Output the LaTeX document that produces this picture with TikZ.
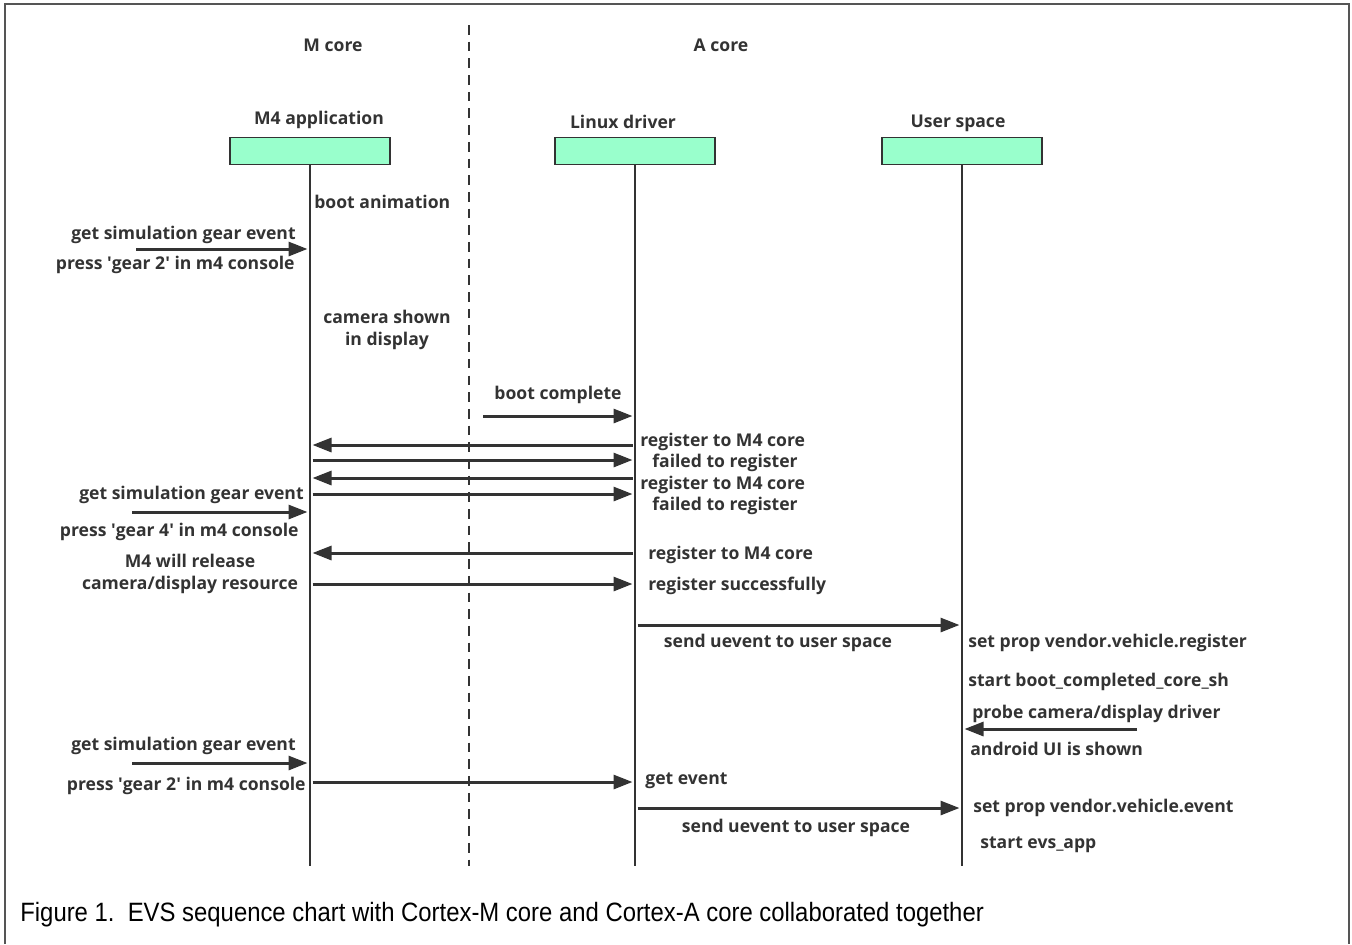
\documentclass[tikz,border=0pt]{standalone}
\usepackage{fontspec}
\setmainfont{Open Sans}
\newfontfamily\capfont{Liberation Sans}[FakeStretch=0.9]
\usetikzlibrary{arrows.meta,positioning}
\definecolor{evsink}{RGB}{51,51,51}
\definecolor{evsmint}{RGB}{153,255,204}
\definecolor{evsframe}{RGB}{85,85,85}
\newcommand{\evsq}{\textquotesingle}

\begin{document}
\begin{tikzpicture}[
    x=0.02cm, y=-0.02cm,
    lbl/.style={inner sep=0pt, text=evsink, font=\fontsize{10}{12.5}\selectfont\bfseries, align=center, yshift=-1.2pt},
    actor/.style={rectangle, draw=evsink, fill=evsmint, line width=1.1pt, minimum width=3.2cm, minimum height=0.54cm, inner sep=0pt},
    life/.style={draw=evsink, line width=1.1pt},
    msg/.style={-{Triangle[length=0.38cm,width=0.28cm]}, draw=evsink, line width=1.7pt, shorten <=0.05cm, shorten >=0.05cm}
]
    \useasboundingbox (0,0) rectangle (1352,944);
    % frame
    \draw[evsframe, line width=1.2pt] (5,944) -- (5,4) -- (1349,4) -- (1349,944);

    % Cores
    \node[lbl] (mcore) at (333,43) {M core};
    \node[lbl] (acore) at (721,43) {A core};

    % Participants
    \node[actor] (m4) at (310,151) {};
    \node[actor] (ld) at (635,151) {};
    \node[actor] (us) at (962,151) {};
    \node[lbl, above=0.2cm of m4, xshift=0.18cm] (m4name) {M4 application};
    \node[lbl, above=0.2cm of ld, xshift=-0.24cm] (ldname) {Linux driver};
    \node[lbl, above=0.14cm of us, xshift=-0.08cm] (usname) {User space};

    % Lifelines
    \coordinate (bottom) at (0,866);
    \draw[life] (m4.south) -- (m4 |- bottom);
    \draw[life] (ld.south) -- (ld |- bottom);
    \draw[life] (us.south) -- (us |- bottom);
    \draw[evsink, line width=1.1pt, dash pattern=on 5.5pt off 4pt] (469,25) -- (469,866);

    % Startup on M core
    \node[lbl, anchor=west] (bootanim) at (314,200) {boot animation};
    \coordinate (g1) at (136,249);
    \draw[msg, shorten <=0cm] (g1) -- (m4 |- g1);
    \node[lbl, anchor=east] (getsim1) at (296,233) {get simulation gear event};
    \node[lbl, anchor=east] (press1) at (295,263) {press \evsq gear 2\evsq{} in m4 console};
    \node[lbl] (camshown) at (387,328) {camera shown\\in display};

    % Boot complete and registration
    \coordinate (bc) at (483,416);
    \draw[msg, shorten <=0cm] (bc) -- (ld |- bc);
    \node[lbl] (bootdone) at (558,393) {boot complete};

    \coordinate (r1) at (0,445);
    \coordinate (r2) at (0,460);
    \coordinate (r3) at (0,478);
    \coordinate (r4) at (0,494);
    \draw[msg] (ld |- r1) -- (m4 |- r1);
    \draw[msg] (m4 |- r2) -- (ld |- r2);
    \draw[msg] (ld |- r3) -- (m4 |- r3);
    \draw[msg] (m4 |- r4) -- (ld |- r4);
    \node[lbl, anchor=west] (reg1) at (640,440) {register to M4 core};
    \node[lbl, anchor=west] (fail1) at (652,461) {failed to register};
    \node[lbl, anchor=west] (reg2) at (640,483) {register to M4 core};
    \node[lbl, anchor=west] (fail2) at (652,504) {failed to register};

    \node[lbl, anchor=east] (getsim2) at (304,493) {get simulation gear event};
    \coordinate (g2) at (132,512);
    \draw[msg, shorten <=0cm] (g2) -- (m4 |- g2);
    \node[lbl, anchor=east] (press2) at (299,530) {press \evsq gear 4\evsq{} in m4 console};

    \coordinate (r5) at (0,553);
    \coordinate (r6) at (0,584);
    \draw[msg] (ld |- r5) -- (m4 |- r5);
    \draw[msg] (m4 |- r6) -- (ld |- r6);
    \node[lbl, anchor=west] (reg3) at (648,553) {register to M4 core};
    \node[lbl, anchor=west] (regok) at (648,584) {register successfully};
    \node[lbl] (release) at (190,572) {M4 will release\\camera/display resource};

    % User space
    \coordinate (u1) at (0,625);
    \draw[msg] (ld |- u1) -- (us |- u1);
    \node[lbl] (uevent1) at (778,641) {send uevent to user space};
    \node[lbl, anchor=west] (setreg) at (968,641) {set prop vendor.vehicle.register};
    \node[lbl, anchor=west] (startboot) at (968,680) {start boot\_completed\_core\_sh};
    \node[lbl, anchor=west] (probe) at (972,712) {probe camera/display driver};
    \coordinate (p1) at (1137,729);
    \draw[msg, shorten <=0cm] (p1) -- (us |- p1);
    \node[lbl, anchor=west] (android) at (970,747) {android UI is shown};

    % Gear 2 again
    \node[lbl, anchor=east] (getsim3) at (296,744) {get simulation gear event};
    \coordinate (g3) at (132,763);
    \draw[msg, shorten <=0cm] (g3) -- (m4 |- g3);
    \node[lbl, anchor=east] (press3) at (306,784) {press \evsq gear 2\evsq{} in m4 console};
    \coordinate (e1) at (0,782);
    \draw[msg] (m4 |- e1) -- (ld |- e1);
    \node[lbl, anchor=west] (getevent) at (645,779) {get event};
    \coordinate (u2) at (0,808);
    \draw[msg] (ld |- u2) -- (us |- u2);
    \node[lbl] (uevent2) at (796,826) {send uevent to user space};
    \node[lbl, anchor=west] (setevent) at (973,806) {set prop vendor.vehicle.event};
    \node[lbl, anchor=west] (startevs) at (980,843) {start evs\_app};

    % Caption
    \node[anchor=west, inner sep=0pt, font=\capfont\fontsize{15.1}{17}\selectfont] (caption) at (20,915) {Figure 1.\ \ EVS sequence chart with Cortex-M core and Cortex-A core collaborated together};
\end{tikzpicture}
\end{document}
